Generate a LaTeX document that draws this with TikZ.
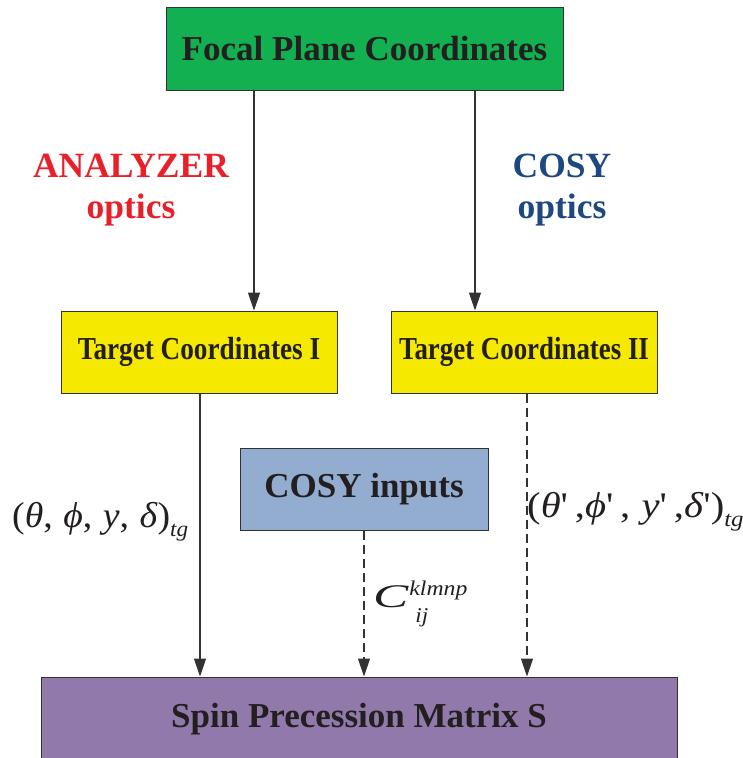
\documentclass[tikz,border=0pt]{standalone}
\usepackage{fontspec}
\setmainfont{Liberation Serif}
\newfontfamily\mfont{Liberation Serif}[Ligatures=TeXOff]
\usetikzlibrary{arrows.meta}
\definecolor{boxgreen}{RGB}{18,176,80}
\definecolor{boxyellow}{RGB}{245,233,0}
\definecolor{boxblue}{RGB}{147,173,208}
\definecolor{boxpurple}{RGB}{145,122,171}
\definecolor{txtdark}{RGB}{35,31,32}
\definecolor{linegray}{RGB}{50,50,50}
\definecolor{lblred}{RGB}{232,32,42}
\definecolor{lblblue}{RGB}{30,72,130}
\tikzset{
  box/.style={draw=linegray, line width=1pt, inner sep=0pt, text=txtdark,
              font=\bfseries\fontsize{35}{40}\selectfont},
  arr/.style={draw=linegray, line width=1.2pt, -{Triangle[length=18pt,width=12pt]}},
  darr/.style={arr, dash pattern=on 9pt off 5pt},
  lbl/.style={inner sep=0pt, font=\bfseries\fontsize{35.5}{40}\selectfont},
  mlbl/.style={inner sep=0pt, text=txtdark, anchor=base west}
}
\begin{document}
\begin{tikzpicture}[x=1pt,y=-1pt]
\useasboundingbox (0,0) rectangle (743,758);
\clip (0,0) rectangle (743,758);
% boxes
\node[box, fill=boxgreen, minimum width=397pt, minimum height=83pt] (top) at (364.5,48.5) {Focal Plane Coordinates};
\node[box, fill=boxyellow, minimum width=276pt, minimum height=82pt] (t1) at (199,352)
  {\scalebox{0.85}[1]{\fontsize{32}{36}\selectfont Target Coordinates I}};
\node[box, fill=boxyellow, minimum width=266pt, minimum height=82pt] (t2) at (524,352)
  {\scalebox{0.84}[1]{\fontsize{32}{36}\selectfont Target Coordinates II}};
\node[box, fill=boxblue, minimum width=248pt, minimum height=82pt] (cosy) at (364,489) {\raisebox{-3pt}{COSY inputs}};
\node[box, fill=boxpurple, minimum width=636pt, minimum height=84pt] (spin) at (359,719) {Spin Precession Matrix S};
% coordinates for connector columns
\coordinate (c1) at (254,0);
\coordinate (c2) at (475,0);
\coordinate (c3) at (200,0);
\coordinate (c4) at (527,0);
% connectors
\draw[arr] (top.south -| c1) -- (t1.north -| c1);
\draw[arr] (top.south -| c2) -- (t2.north -| c2);
\draw[arr] (t1.south -| c3) -- (spin.north -| c3);
\draw[darr] (t2.south -| c4) -- (spin.north -| c4);
\draw[darr] (cosy.south) -- (spin.north -| cosy.south);
% optics labels
\node[lbl, text=lblred] (an) at (131,166) {ANALYZER};
\node[lbl, text=lblred] (ao) at (131,210) {optics};
\node[lbl, text=lblblue] (cs) at (562,166) {COSY};
\node[lbl, text=lblblue] (co) at (562,210) {optics};
% math labels
\node[mlbl] (m1) at (12,527) {\scalebox{1.05}[1]{\mfont\fontsize{36}{40}\selectfont (\textit{θ},\;\textit{ϕ},\;\textit{y},\;\textit{δ})\raisebox{-9pt}{\itshape\fontsize{22}{24}\selectfont tg}}};
\node[mlbl] (m2) at (527,517) {\scalebox{1.13}[1]{\mfont\fontsize{36}{40}\selectfont (\textit{θ}'\,,\textit{ϕ}'\,,\;\textit{y}'\,,\textit{δ}')\raisebox{-9pt}{\itshape\fontsize{22}{24}\selectfont tg}}};
\node[mlbl] (m3) at (373,607) {\mfont\itshape\fontsize{33}{40}\selectfont \scalebox{1.6}[1]{C}\rlap{\raisebox{12pt}{\kern1pt\scalebox{1.13}[1]{\fontsize{21}{26}\selectfont klmnp}}}\raisebox{-15pt}{\kern7pt\scalebox{1.1}[1]{\fontsize{21}{26}\selectfont ij}}};
\end{tikzpicture}
\end{document}
